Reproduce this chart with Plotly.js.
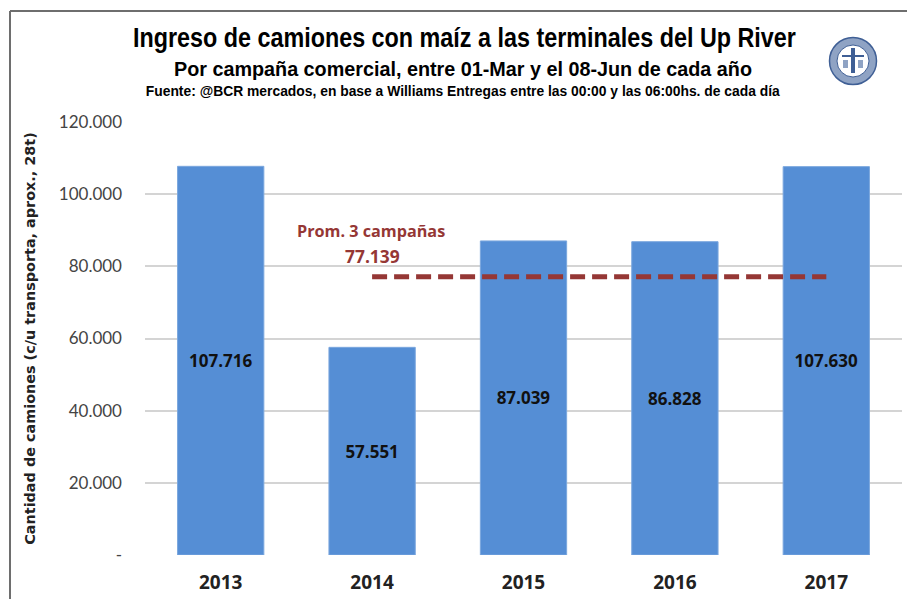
<!DOCTYPE html>
<html><head><meta charset="utf-8">
<script src="https://cdn.plot.ly/plotly-3.0.1.min.js"></script>
<style>html,body{margin:0;padding:0;background:#fff}#c{width:907px;height:599px}</style>
</head><body><div id="c"></div>
<script>
const years = ['2013','2014','2015','2016','2017'];
const trucks = [107716,57551,87039,86828,107630];
const barLabels = ['107.716','57.551','87.039','86.828','107.630'];
const avgYears = ['2014','2015','2016','2017'];
const avgValues = [77139,77139,77139,77139];
const tickValues = [0,20000,40000,60000,80000,100000,120000];
const tickLabels = ['-','20.000','40.000','60.000','80.000','100.000','120.000'];
const titleWidths = [663,578,634];
const W=907,H=599,L=145,R=5,T=122,B=44;
const px=x=>(x-L)/(W-L-R), py=y=>(H-B-y)/(H-T-B);
const sans='"Liberation Sans",sans-serif';
const open='"Open Sans",sans-serif';
const body='Lato,"Open Sans",sans-serif';
const logoBlue='#3f5f95', logoMid='#8fa3c4';
const traces=[
 {type:'bar',x:years,y:trucks,width:0.57,marker:{color:'#558ed5',line:{color:'#7ba7de',width:1}},
  text:barLabels,textposition:'inside',insidetextanchor:'middle',constraintext:'none',cliponaxis:false,
  textfont:{family:open,size:17,color:'#111',weight:700},hoverinfo:'x+y'},
 {type:'scatter',mode:'lines',x:avgYears,y:avgValues,line:{color:'#953735',width:5,dash:'15px 7px'},hoverinfo:'y'}
];
const titleAnn=(text,cx,cy,size)=>({text,xref:'paper',yref:'paper',x:px(cx),y:py(cy),xanchor:'center',yanchor:'middle',showarrow:false,font:{family:sans,size,color:'#000',weight:700}});
const logoCircle=(r,fill,lineColor,lw)=>({type:'circle',xref:'paper',yref:'paper',x0:px(853-r),x1:px(853+r),y0:py(61-r),y1:py(61+r),line:{color:lineColor,width:lw},fillcolor:fill});
const logoRect=(x0,x1,y0,y1,fill)=>({type:'rect',xref:'paper',yref:'paper',x0:px(x0),x1:px(x1),y0:py(y0),y1:py(y1),line:{width:0},fillcolor:fill});
const layout={
 width:W,height:H,margin:{l:L,r:R,t:T,b:B,pad:0},paper_bgcolor:'#fff',plot_bgcolor:'#fff',showlegend:false,
 separators:',.',
 xaxis:{type:'category',range:[-0.5,4.5],showgrid:false,showline:false,zeroline:false,ticks:'',
  tickfont:{family:open,size:19,color:'#222',weight:700},ticklabelstandoff:14},
 yaxis:{range:[0,120000],tickvals:tickValues,ticktext:tickLabels,showgrid:true,gridcolor:'#d4d4d4',gridwidth:2,zeroline:false,showline:false,ticks:'',
  ticklabelstandoff:22,tickfont:{family:body,size:17,color:'#444'},
  title:{text:'<b>Cantidad de camiones (c/u transporta, aprox., 28t)</b>',standoff:19,font:{family:'"DejaVu Sans",sans-serif',size:14.4,color:'#222'}}},
 annotations:[
  titleAnn('Ingreso de camiones con maíz a las terminales del Up River',464,38,27),
  titleAnn('Por campaña comercial, entre 01-Mar y el 08-Jun de cada año',463,68,21),
  titleAnn('Fuente: @BCR mercados, en base a Williams Entregas entre las 00:00 y las 06:00hs. de cada día',463,91,14.5),
  {text:'Prom. 3 campañas',xref:'paper',yref:'paper',x:px(371),y:py(231),xanchor:'center',yanchor:'middle',showarrow:false,font:{family:open,size:16.2,color:'#953735',weight:700}},
  {text:'77.139',xref:'paper',yref:'paper',x:px(372),y:py(256),xanchor:'center',yanchor:'middle',showarrow:false,font:{family:open,size:17.4,color:'#953735',weight:700}}
 ],
 shapes:[
  {type:'line',xref:'paper',yref:'paper',x0:px(10),x1:px(10),y0:py(11),y1:py(599),line:{color:'#6e6e6e',width:2}},
  {type:'line',xref:'paper',yref:'paper',x0:px(10),x1:px(907),y0:py(11),y1:py(11),line:{color:'#6e6e6e',width:2}},
  logoCircle(23.5,logoMid,logoBlue,1.5),
  logoCircle(16,'#fff',logoBlue,1),
  logoRect(851,855,48,73,logoBlue),
  logoRect(842,864,55,57,logoBlue),
  logoRect(843,848,60,68,logoMid),
  logoRect(858,863,60,68,logoMid)
 ]
};
Plotly.newPlot('c',traces,layout,{displayModeBar:false,staticPlot:true}).then(gd=>{
  gd.querySelectorAll('.annotation-text').forEach((t,i)=>{
    if(i<titleWidths.length){t.setAttribute('textLength',titleWidths[i]);t.setAttribute('lengthAdjust','spacingAndGlyphs');}
  });
});
</script></body></html>
